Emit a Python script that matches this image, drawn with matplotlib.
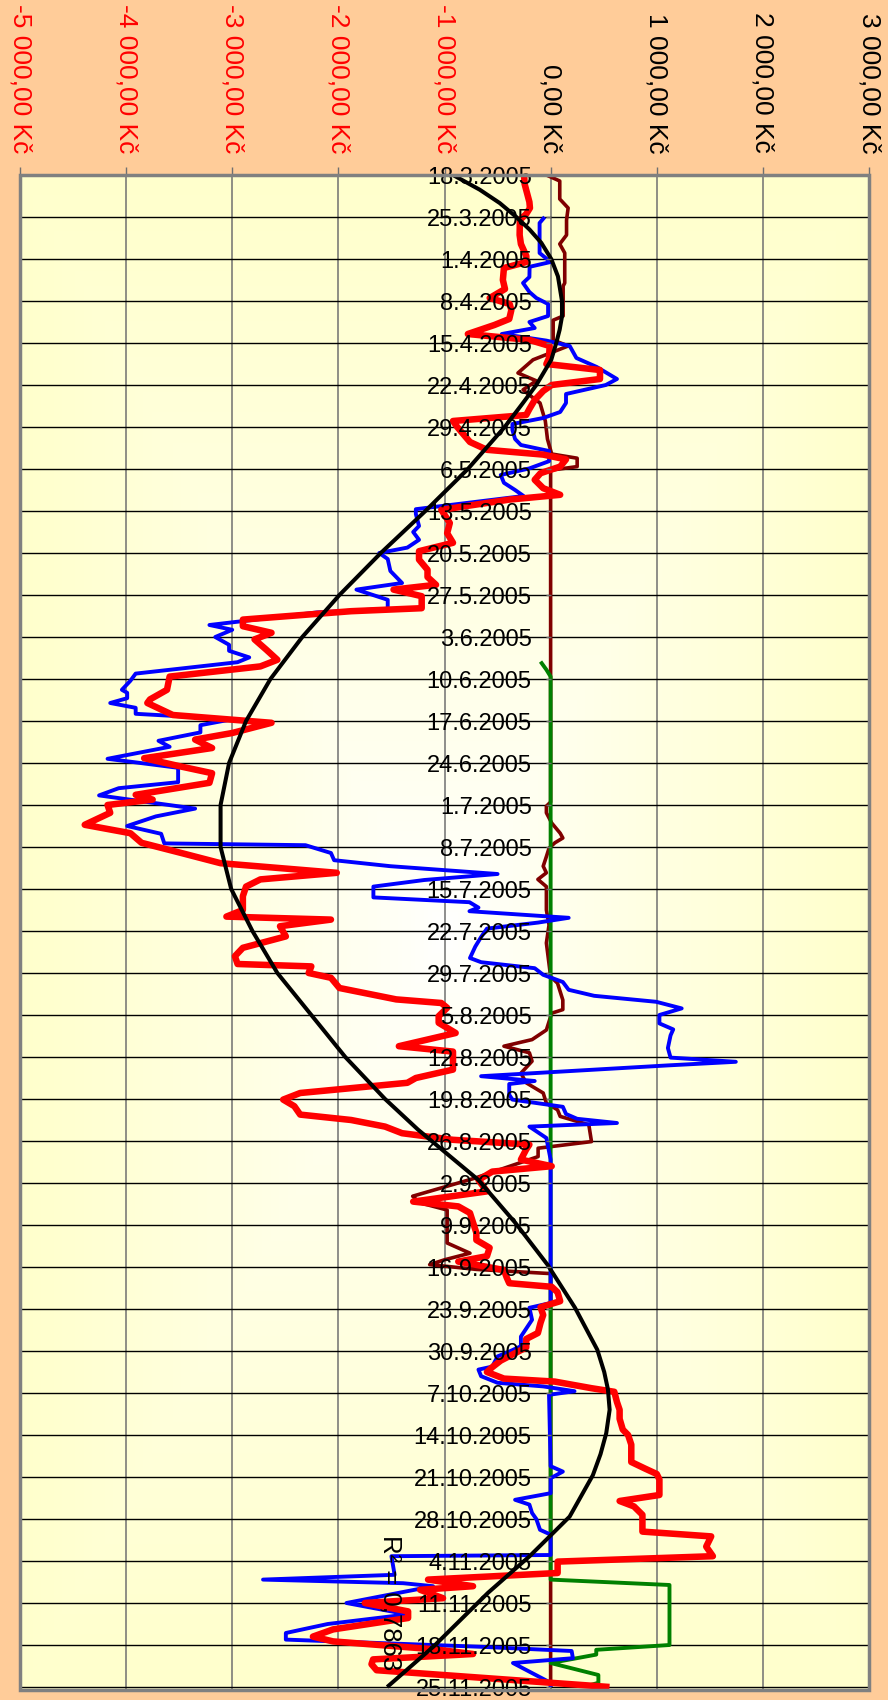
import numpy as np
import matplotlib.pyplot as plt
from matplotlib.patches import Rectangle
from matplotlib.colors import to_rgb

plt.rcParams['font.family'] = ['Liberation Sans', 'DejaVu Sans']

# value axis (drawn on top, chart is turned by 90 degrees)
value_ticks = [-5000, -4000, -3000, -2000, -1000, 0, 1000, 2000, 3000]
value_labels = ['-5 000,00 Kč', '-4 000,00 Kč', '-3 000,00 Kč', '-2 000,00 Kč',
                '-1 000,00 Kč', '0,00 Kč', '1 000,00 Kč', '2 000,00 Kč',
                '3 000,00 Kč']

# date axis, one label a week, position = days since 18.3.2005
date_labels = ['18.3.2005', '25.3.2005', '1.4.2005', '8.4.2005', '15.4.2005',
               '22.4.2005', '29.4.2005', '6.5.2005', '13.5.2005', '20.5.2005',
               '27.5.2005', '3.6.2005', '10.6.2005', '17.6.2005', '24.6.2005',
               '1.7.2005', '8.7.2005', '15.7.2005', '22.7.2005', '29.7.2005',
               '5.8.2005', '12.8.2005', '19.8.2005', '26.8.2005', '2.9.2005',
               '9.9.2005', '16.9.2005', '23.9.2005', '30.9.2005', '7.10.2005',
               '14.10.2005', '21.10.2005', '28.10.2005', '4.11.2005',
               '11.11.2005', '18.11.2005', '25.11.2005']
date_pos = [7 * i for i in range(len(date_labels))]

# (day, value in Kč)
red_pts = [(0, -250), (1.5, -245), (4.5, -200), (5.5, -195), (6.5, -230), (7.5, -290),
           (10, -292), (11.5, -280), (13.5, -229), (14.5, -229), (15.5, -440), (17.5, -450),
           (19, -430), (20.5, -574), (21.5, -386), (22.5, -370), (24, -390), (25, -530),
           (26.5, -780), (27.5, -198), (28.5, -9), (30.5, -15), (31.5, -40), (32.5, 465),
           (34, 465), (35, 10), (36, -70), (37.5, -150), (39, -200), (40, -230), (41, -920),
           (42, -880), (44.5, -760), (45.8, -600), (46.6, -70), (47.4, 145), (48.6, 90),
           (49.7, -95), (50.8, -150), (52.2, -70), (53.3, 90), (54.1, -390), (55.8, -1030),
           (58, -950), (59.7, -975), (61.3, -920), (62.7, -1240), (64.1, -1240), (65.8, -1160),
           (67, -1160), (68.3, -1080), (69.1, -1480), (70.2, -1215), (72.2, -1215),
           (72.7, -1880), (74.1, -2900), (75.2, -2900), (76.3, -2630), (77.4, -2790),
           (79.1, -2680), (80.8, -2575), (81.9, -2735), (83.6, -3590), (85.8, -3615),
           (87.4, -3775), (88, -3800), (90, -3560), (91.3, -2630), (93, -3000), (94.1, -3350),
           (95.5, -3190), (97.2, -3830), (98.6, -3480), (99.7, -3190), (101.3, -3215),
           (103.3, -3910), (104.1, -3750), (105, -4175), (106.3, -4150), (108.3, -4390),
           (109.7, -3960), (111.3, -3855), (113, -3480), (114.7, -3110), (116.3, -2015),
           (117.4, -2735), (118.6, -2870), (120.2, -2900), (122.5, -2900), (123.6, -3055),
           (124.1, -2070), (125.2, -2550), (126.9, -2495), (128.8, -2900), (130.2, -2975),
           (131.5, -2950), (131.9, -2255), (133, -2280), (133.8, -2070), (135.5, -1990),
           (137.4, -1455), (138, -1030), (138.8, -975), (140.2, -1055), (141.3, -1055),
           (143, -895), (145.2, -1430), (146.1, -920), (149.1, -920), (150.5, -1270),
           (151.3, -1350), (153, -2360), (154.1, -2520), (155.2, -2415), (156.6, -2360),
           (157.5, -1880), (158.6, -1560), (159.7, -1400), (160.8, -920), (161.6, -200),
           (162.4, -230), (164.1, -280), (165.2, 10), (166.1, -550), (167.5, -680),
           (169.4, -600), (171.1, -1295), (171.9, -870), (173, -760), (176.3, -700),
           (177.5, -700), (178.8, -575), (180.2, -600), (181.1, -870), (182.5, -440),
           (183.7, -415), (184.7, -390), (185.3, 10), (186.2, 65), (187.7, 90), (188.7, -95),
           (190, -70), (191.3, -95), (193, -120), (194, -230), (195.4, -230), (196.6, -360),
           (197.6, -470), (198.7, -550), (199.5, -600), (200.6, -440), (201.1, 40),
           (202.2, 385), (202.8, 600), (204.5, 625), (205.8, 650), (207.3, 650), (209.1, 680),
           (210, 730), (211.6, 760), (214.5, 760), (215.6, 890), (216.5, 1000), (217.4, 1025),
           (220, 1025), (221, 650), (221.9, 785), (223.3, 865), (226.1, 865), (226.9, 1513),
           (228.6, 1466), (230.2, 1529), (231.1, 66), (233, 66), (234.1, -1155),
           (235.2, -731), (235.8, -1230), (237.2, -1014), (238, -1751), (239.4, -1343),
           (240.5, -1343), (242.4, -2050), (243.6, -2240), (244.4, -2050), (245.7, -1108),
           (246.5, -731), (247.4, -1673), (248.2, -1688), (249.2, -1640), (249.9, -1092),
           (252, 555)]

blue_pts = [(7, -56), (8, -104), (10, -104), (13, -104), (14.5, 0), (15.3, -198), (17, -200),
            (18, -260), (19.5, -200), (20.5, -135), (21.5, -24), (23.5, -24), (24.5, -200),
            (25.5, -150), (26.5, -460), (27.6, -40), (28.5, 180), (30.5, 243), (32, 435),
            (34, 625), (35, 520), (36.5, 145), (38, 145), (39.5, 90), (40.5, -70), (41.5, -360),
            (42.5, -360), (44, -335), (45, -280), (46, -15), (47.7, -15), (48.9, -200),
            (50, -470), (51.3, -440), (52.5, -335), (53.5, -255), (55.7, -1270), (56.5, -1270),
            (58.5, -1240), (59.5, -1295), (60.8, -1240), (62.1, -1350), (63, -1615),
            (64, -1535), (66, -1510), (68, -1400), (69.1, -1830), (70.8, -1535), (72.3, -1535),
            (72.9, -2200), (75, -3215), (75.8, -3000), (77, -3160), (78.3, -3030),
            (79.3, -3030), (80.4, -2840), (81.2, -2950), (83.1, -3910), (84.3, -3960),
            (85.8, -4040), (86.3, -3990), (87.2, -3990), (88, -4150), (88.8, -3910),
            (89.8, -3910), (90.7, -3000), (91.7, -3300), (92.9, -3300), (94.3, -3695),
            (95.3, -3590), (97.3, -4175), (98.8, -3510), (101.2, -3510), (102.2, -4070),
            (103.4, -4255), (104.7, -3720), (105.6, -3350), (106.9, -3720), (108.5, -3990),
            (109.8, -3670), (111.4, -3640), (111.7, -2310), (113, -2070), (114.2, -2040),
            (115.2, -1510), (116.5, -500), (117.5, -1190), (118.6, -1670), (120.4, -1670),
            (121.2, -765), (122.1, -680), (122.7, -765), (123.8, 170), (124.6, -120),
            (125.6, -600), (127, -655), (128.6, -710), (130.5, -760), (131.2, -655),
            (132.2, -150), (133.3, -70), (134.5, 115), (135.8, 170), (136.8, 410), (137.8, 995),
            (138.9, 1235), (140, 1025), (141.4, 1025), (142.4, 1155), (143.4, 1130),
            (145.5, 1105), (147.1, 1130), (147.8, 1745), (148.4, 1105), (150.2, -655),
            (151, -150), (151.5, -390), (153.3, -390), (154.1, -360), (155.3, 115), (156.5, 145),
            (157.3, 250), (158, 625), (158.6, -200), (159.2, -150), (160.5, -40), (164.1, 0),
            (188, 0), (188.8, -200), (190.8, -175), (193.6, -280), (195.2, -280), (196.1, -390),
            (196.9, -500), (198.6, -550), (199.1, -680), (200.2, -655), (201.3, -500),
            (201.9, -70), (202.7, 225), (203.3, -15), (215.2, 0), (216.1, 115), (217.2, 0),
            (219.7, 0), (220.8, -335), (221.6, -200), (223, -175), (224, -135), (225.8, -100),
            (226.6, 0), (230, 0), (230.2, -1500), (233.3, -1470), (234.1, -2710),
            (234.7, -1390), (235.2, -1108), (238, -1924), (239.9, -1350), (241.5, -2100),
            (243, -2495), (244.1, -2495), (245.3, -655), (246, 198), (247.2, 210),
            (248, -355), (251.3, 0), (252, 0)]

maroon_pts = [(0, -40), (1, 86), (4, 86), (5.5, 165), (7.5, 150), (10, 150), (11.5, 86),
              (13, 133), (18, 133), (18.5, 118), (23.5, 118), (24.2, 24), (27.5, 24),
              (28.5, 165), (30.8, -166), (33, -308), (34.3, -135), (35.8, -260), (36.5, -213),
              (38, -100), (41, -50), (44, -30), (46.5, 10), (47.2, 250), (48.6, 250), (49.2, 0),
              (104.5, 0), (105.2, -40), (106.3, -40), (108, 10), (109.7, 90), (110.5, 115),
              (111.3, 40), (112.2, -15), (113.6, -40), (115.2, -70), (116.3, -40),
              (117.4, -120), (118.6, -40), (122.5, -40), (125, -15), (128, -40), (133.6, 0),
              (134.7, 65), (137.5, 115), (139.1, 115), (139.7, 10), (142.5, -40), (144.1, -175),
              (145.2, -440), (146.3, -200), (147.7, -175), (149.7, -280), (151.3, -230),
              (153, -70), (154.7, -40), (155.8, 65), (156.9, 90), (158.3, 360), (161.1, 385),
              (162.2, -118), (163.6, -118), (167.2, -715), (170.2, -1300), (171.3, -1233),
              (172.5, -975), (178, -975), (179.7, -760), (180.8, -1000), (181.6, -1140),
              (182.4, -700), (183.1, 0), (252, 0)]

green_pts = [(81.1, -95), (82.45, -40), (83.6, 0), (234.1, 0), (235, 1120), (245, 1120),
             (245.8, 430), (246.6, 430), (248, 0), (250, 450), (251.3, 450), (251.8, 350)]

# polynomial trendline of the red series, as drawn
trend_pts = [(0, -920), (2.45, -668), (4.67, -480), (7, -323), (9.1, -198), (11.3, -88),
             (14, 6), (16.9, 69), (21, 107), (23.6, 107), (25.8, 85), (28, 53), (30.8, 6),
             (35, -135), (38, -261), (42, -433), (49, -780), (56, -1180), (63, -1600),
             (70, -1990), (77, -2340), (84, -2640), (91, -2870), (98, -3030), (105, -3110),
             (112, -3110), (119, -3010), (126, -2810), (133, -2575), (140, -2255),
             (147, -1935), (154, -1560), (159.1, -1250), (167.5, -680), (174.7, -330),
             (181.6, -30), (188.8, 230), (195.8, 440), (199.5, 505), (202.4, 540),
             (205.8, 556), (209.7, 524), (213.2, 470), (216.7, 398), (223.6, 179),
             (226.9, -9), (230.2, -198), (236.3, -590), (245.2, -1100), (252, -1540)]
r2_text = 'R² = 0,7863'

W, H = 888, 1700
fig = plt.figure(figsize=(W / 100, H / 100), dpi=100, facecolor='#FFCC99')
ax = fig.add_axes([20 / W, 10 / H, 849 / W, 1515 / H])
ax.set_xlim(-5000, 3000)
ax.set_ylim(252.5, 0)

# plot area fill: light yellow, whiter toward the middle
u = np.linspace(-1, 1, 200)
v = np.linspace(-1, 1, 300)
U, V = np.meshgrid(u, v)
t = np.clip(np.maximum(np.abs(U), np.abs(V)), 0, 1) ** 0.8
yel = np.array(to_rgb('#FFFFCC'))
img = np.ones((300, 200, 3)) * (1 - t[..., None]) + yel * t[..., None]
ax.imshow(img, extent=[0, 1, 0, 1], transform=ax.transAxes, aspect='auto', zorder=0)

# grid
for x in value_ticks:
    ax.axvline(x, color='#707070', lw=1.1, zorder=1)
for d in date_pos:
    ax.axhline(d, color='black', lw=1.0, zorder=1)


def draw(pts, color, lw, z):
    arr = np.array(pts, dtype=float)
    ax.plot(arr[:, 1], arr[:, 0], color=color, lw=lw, zorder=z,
            solid_joinstyle='round', solid_capstyle='butt')


draw(maroon_pts, '#800000', 2.6, 2.0)
draw(green_pts, '#008000', 2.8, 2.1)
draw(blue_pts, '#0000FF', 2.8, 2.2)
draw(red_pts, '#FF0000', 4.7, 2.3)
draw(trend_pts, 'black', 2.9, 2.4)

ax.set_axisbelow(False)

# value axis on top
ax.xaxis.tick_top()
ax.set_xticks(value_ticks)
ax.set_xticklabels(value_labels, rotation=270, fontsize=19)
for lab, val in zip(ax.get_xticklabels(), value_ticks):
    lab.set_color('red' if val < 0 else 'black')
ax.tick_params(axis='x', which='both', top=True, bottom=False, direction='out',
               length=5.8, width=1, color='#707070', pad=10)

# date axis crossing at 0
ax.spines['left'].set_position(('data', 0))
ax.spines['left'].set_linewidth(0)
ax.spines['right'].set_visible(False)
ax.spines['top'].set_visible(False)
ax.spines['bottom'].set_visible(False)
ax.set_yticks(date_pos)
ax.set_yticklabels(date_labels, fontsize=17)
ax.tick_params(axis='y', left=True, right=False, direction='out', length=3.6,
               width=1, color='#707070', pad=10)

ax.add_patch(Rectangle((0, 0), 1, 1, transform=ax.transAxes, fill=False,
                       ec='#808080', lw=2.5, zorder=3, clip_on=False))

ax.text(-1507, 226.6, r2_text, rotation=270, ha='center', va='top',
        fontsize=18.5, color='black', zorder=3)

fig.savefig('out.png', dpi=100, facecolor=fig.get_facecolor())
